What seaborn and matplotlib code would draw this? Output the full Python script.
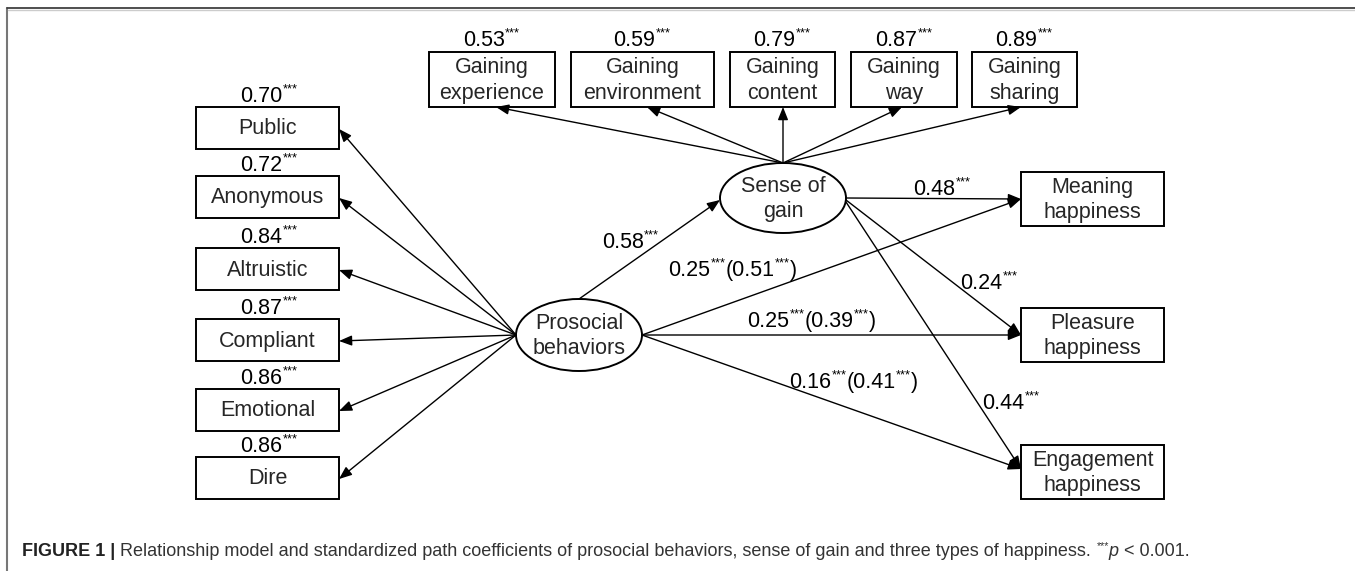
import matplotlib
matplotlib.use("Agg")
import matplotlib.pyplot as plt
from matplotlib.patches import Rectangle, Ellipse
import seaborn as sns

# --- data ---------------------------------------------------------------
# indicators of prosocial behaviors (top to bottom) with loadings
prosocial_items = ["Public", "Anonymous", "Altruistic", "Compliant", "Emotional", "Dire"]
prosocial_loadings = ["0.70", "0.72", "0.84", "0.87", "0.86", "0.86"]

# indicators of sense of gain (left to right) with loadings
gain_items = ["Gaining\nexperience", "Gaining\nenvironment", "Gaining\ncontent",
              "Gaining\nway", "Gaining\nsharing"]
gain_loadings = ["0.53", "0.59", "0.79", "0.87", "0.89"]

# outcomes and path coefficients
outcomes = ["Meaning\nhappiness", "Pleasure\nhappiness", "Engagement\nhappiness"]
gain_to_outcome = ["0.48", "0.24", "0.44"]
direct_effect = ["0.25", "0.25", "0.16"]
total_effect = ["0.51", "0.39", "0.41"]
prosocial_to_gain = "0.58"

caption = ("Relationship model and standardized path coefficients of prosocial behaviors, "
           "sense of gain and three types of happiness. ")

# --- layout (pixel space of the figure) ----------------------------------
W, H = 1355, 571
left_x, left_w, left_h = 196, 143, 42
left_tops = [107, 176, 248, 319, 389, 457]
top_y, top_h = 52, 55
top_spans = [(429, 555), (571, 714), (730, 835), (851, 957), (972, 1077)]
top_tips = [496, 647, 783, 902, 1021]
right_x, right_w, right_h = 1021, 143, 54
right_tops = [172, 308, 445]
right_tips = [199, 335, 469]
gain_c, gain_w, gain_h = (783, 198), 126, 70
pro_c, pro_w, pro_h = (579, 335), 126, 72

gain_label_pos = [(913, 195), (960, 289), (982, 409)]
direct_label_pos = [(668, 276), (747, 327), (789, 388)]

sns.set_theme(style="white")
plt.rcParams["font.family"] = ["Liberation Sans", "DejaVu Sans"]
FS = 15.5
CAP_FS = 13
LS = 1.3

fig = plt.figure(figsize=(W / 100, H / 100), dpi=100)
ax = fig.add_axes([0, 0, 1, 1])
ax.set_xlim(0, W)
ax.set_ylim(H, 0)
ax.axis("off")


def style(kind):
    if kind == "b":
        return {"fontweight": "bold", "color": "#222222"}
    if kind == "i":
        return {"fontstyle": "italic"}
    return {}


def rich_text(x, y, pieces, fs, color="black"):
    txt, kind = pieces[0]
    base = ax.text(x, y, txt, fontsize=fs, ha="left", va="baseline",
                   **{"color": color, **style(kind)})
    prev = base
    for txt, kind in pieces[1:]:
        if kind == "sup":
            t = ax.annotate(txt, xy=(1, 1), xycoords=(prev, base), xytext=(0.3, 1.5),
                            textcoords="offset points", fontsize=fs * 0.6,
                            ha="left", va="top", color=color)
        else:
            t = ax.annotate(txt, xy=(1, 0), xycoords=(prev, base), fontsize=fs,
                            ha="left", va="bottom", **{"color": color, **style(kind)})
        prev = t
    return base


def arrow(start, end):
    ax.annotate("", xy=end, xytext=start,
                arrowprops=dict(arrowstyle="-|>,head_length=0.55,head_width=0.22",
                                color="black", lw=1.0, shrinkA=0, shrinkB=0,
                                mutation_scale=14))


def box(x0, y0, w, h, label):
    ax.add_patch(Rectangle((x0, y0), w, h, fill=False, ec="black", lw=1.4))
    ax.text(x0 + w / 2, y0 + h / 2 + 1, label, ha="center", va="center",
            fontsize=FS, linespacing=LS)


# frame
ax.plot([7, 7], [H, 8], color="#777777", lw=1.5)
ax.plot([7, W], [8, 8], color="#404040", lw=1.3)
ax.plot([8, W], [10, 10], color="#cccccc", lw=1.0)

# left column
for name, load, top in zip(prosocial_items, prosocial_loadings, left_tops):
    box(left_x, top, left_w, left_h, name)
    rich_text(left_x + left_w / 2 - 27, top - 5, [(load, "n"), ("***", "sup")], FS)
    arrow((pro_c[0] - pro_w / 2, pro_c[1]), (left_x + left_w, top + left_h / 2 + 1))

# top row
for name, load, (x0, x1), tip in zip(gain_items, gain_loadings, top_spans, top_tips):
    box(x0, top_y, x1 - x0, top_h, name)
    rich_text((x0 + x1) / 2 - 29, top_y - 6, [(load, "n"), ("***", "sup")], FS)
    arrow((gain_c[0], gain_c[1] - gain_h / 2), (tip, top_y + top_h))

# latent variables
ax.add_patch(Ellipse(gain_c, gain_w, gain_h, fill=False, ec="black", lw=1.4))
ax.text(gain_c[0], gain_c[1] + 1, "Sense of\ngain", ha="center", va="center",
        fontsize=FS, linespacing=LS)
ax.add_patch(Ellipse(pro_c, pro_w, pro_h, fill=False, ec="black", lw=1.4))
ax.text(pro_c[0], pro_c[1] + 1, "Prosocial\nbehaviors", ha="center", va="center",
        fontsize=FS, linespacing=LS)

arrow((pro_c[0], pro_c[1] - pro_h / 2), (gain_c[0] - gain_w / 2, gain_c[1] + 2))
rich_text(602, 248, [(prosocial_to_gain, "n"), ("***", "sup")], FS)

# outcomes
for i, name in enumerate(outcomes):
    box(right_x, right_tops[i], right_w, right_h, name)
    arrow((gain_c[0] + gain_w / 2, gain_c[1] + i * 2), (right_x, right_tips[i]))
    arrow((pro_c[0] + pro_w / 2, pro_c[1]), (right_x, right_tips[i]))
    gx, gy = gain_label_pos[i]
    rich_text(gx, gy, [(gain_to_outcome[i], "n"), ("***", "sup")], FS)
    dx, dy = direct_label_pos[i]
    rich_text(dx, dy, [(direct_effect[i], "n"), ("***", "sup"), ("(" + total_effect[i], "n"),
                       ("***", "sup"), (")", "n")], FS)

# caption
rich_text(22, 556, [("FIGURE 1 | ", "b"), (caption, "n"), ("***", "sup"), ("p", "i"),
                    (" < 0.001.", "n")], CAP_FS, color="#333333")

fig.savefig("out.png", dpi=100)
